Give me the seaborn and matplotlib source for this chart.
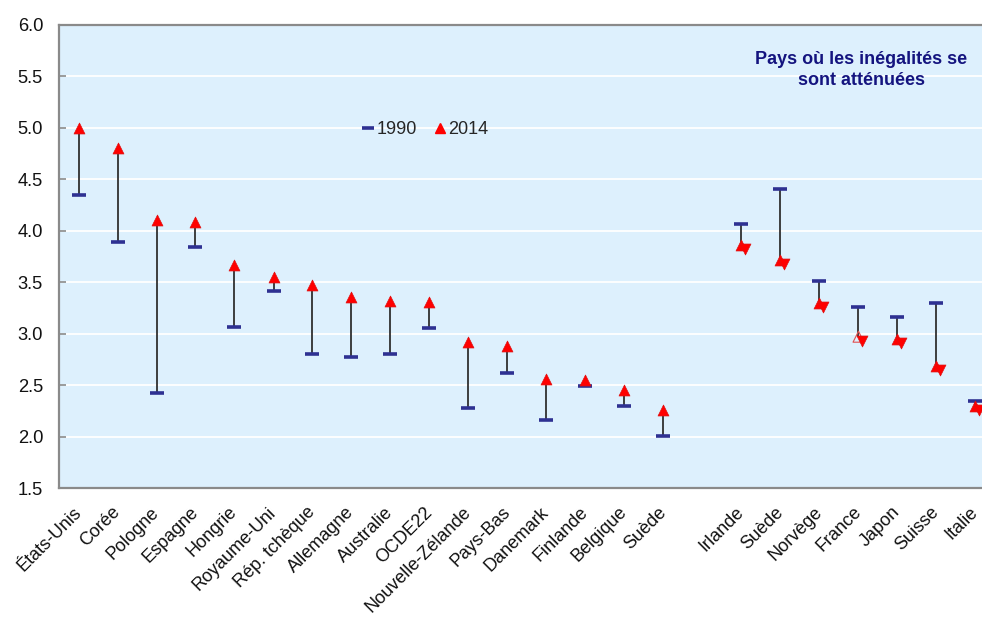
import matplotlib
matplotlib.use("Agg")
import matplotlib.pyplot as plt
import matplotlib.transforms as mtransforms
from matplotlib.lines import Line2D
import numpy as np
import pandas as pd
import seaborn as sns

# ---- data ----
left_countries = ["États-Unis", "Corée", "Pologne", "Espagne", "Hongrie", "Royaume-Uni",
                  "Rép. tchèque", "Allemagne", "Australie", "OCDE22", "Nouvelle-Zélande",
                  "Pays-Bas", "Danemark", "Finlande", "Belgique", "Suède"]
left_1990 = [4.35, 3.89, 2.42, 3.84, 3.06, 3.41, 2.80, 2.77, 2.80, 3.05, 2.28,
             2.62, 2.16, 2.49, 2.30, 2.01]
left_2014 = [5.00, 4.80, 4.10, 4.08, 3.67, 3.55, 3.47, 3.36, 3.32, 3.31, 2.92,
             2.88, 2.56, 2.55, 2.45, 2.26]

right_countries = ["Irlande", "Suède", "Norvège", "France", "Japon", "Suisse", "Italie"]
right_1990 = [4.06, 4.40, 3.51, 3.26, 3.16, 3.30, 2.35]
right_2014 = [3.86, 3.71, 3.30, 2.97, 2.95, 2.69, 2.30]
hollow_2014 = ["France"]

annotation = "Pays où les inégalités se\nsont atténuées"
series_labels = ["1990", "2014"]

# ---- tables ----
left = pd.DataFrame({"country": left_countries, "v1990": left_1990, "v2014": left_2014})
left["pos"] = np.arange(len(left))
right = pd.DataFrame({"country": right_countries, "v1990": right_1990, "v2014": right_2014})
right["pos"] = np.arange(len(right)) + len(left) + 1
df = pd.concat([left, right], ignore_index=True)

# ---- style ----
sns.set_style("white")
plt.rcParams["font.family"] = ["Liberation Sans", "DejaVu Sans"]

NAVY = "#2e3192"
RED = "#ff0000"
BG = "#ddf0fd"
SPINE = "#8a8a8a"

fig = plt.figure(figsize=(9.82, 6.17), dpi=100)
ax = fig.add_axes([59 / 982, 1 - 488.2 / 617, 936 / 982, 463.7 / 617])
ax.set_facecolor(BG)

# connectors
ax.vlines(df["pos"], df["v1990"], df["v2014"], color="#303030", lw=1.3, zorder=2)

# 1990 dashes
sns.scatterplot(data=df, x="pos", y="v1990", marker="_", s=90, linewidth=2.6,
                color=NAVY, ax=ax, zorder=3, legend=False)

# 2014 up triangles
is_right = df["pos"] > len(left)
solid = df[~(df["country"].isin(hollow_2014) & is_right)]
hol = df[df["country"].isin(hollow_2014) & is_right]
sns.scatterplot(data=solid, x="pos", y="v2014", marker="^", s=62, color=RED,
                edgecolor="#e01010", linewidth=0.5, ax=ax, zorder=4, legend=False)
sns.scatterplot(data=hol, x="pos", y="v2014", marker="^", s=62, facecolor="none",
                edgecolor="#e05050", linewidth=0.8, ax=ax, zorder=4, legend=False)

# 2014 down triangles for declining countries (slightly offset)
offset = mtransforms.ScaledTranslation(4 / 100, -4 / 100, fig.dpi_scale_trans)
rdf = df[is_right]
ax.scatter(rdf["pos"], rdf["v2014"], marker="v", s=62, color=RED,
           edgecolor="#e01010", linewidth=0.5, zorder=5, transform=ax.transData + offset)

# axes
ax.set_xlim(-0.5, len(df) + 0.5)
ax.set_ylim(1.5, 6.0)
yt = np.arange(1.5, 6.01, 0.5)
ax.set_yticks(yt)
ax.set_yticklabels([f"{v:.1f}" for v in yt])
ax.set_xticks(df["pos"])
ax.set_xticklabels(df["country"], rotation=45, ha="right", va="top",
                   rotation_mode="anchor")
ax.set_xlabel("")
ax.set_ylabel("")

ax.yaxis.grid(True, color="white", lw=1.3)
ax.xaxis.grid(False)
ax.set_axisbelow(True)

for side in ["top", "left", "bottom"]:
    ax.spines[side].set_visible(True)
    ax.spines[side].set_color(SPINE)
    ax.spines[side].set_linewidth(1.6)
ax.spines["right"].set_visible(False)

ax.tick_params(axis="y", direction="in", length=5, width=1.2, color=SPINE,
               labelsize=13.2, pad=11.5, labelcolor="#111111", left=True)
ax.tick_params(axis="x", length=0, labelsize=13, pad=9, labelcolor="#111111")

# shift the rotated category labels slightly left/down (after tick_params)
lab_shift = mtransforms.ScaledTranslation(-6 / 100, -3 / 100, fig.dpi_scale_trans)
for lab in ax.xaxis.get_majorticklabels():
    lab.set_transform(lab.get_transform() + lab_shift)

# legend
handles = [
    Line2D([], [], marker="_", color=NAVY, ls="none", markersize=9, markeredgewidth=2.6),
    Line2D([], [], marker="^", color=RED, ls="none", markersize=7.5),
]
ax.legend(handles, series_labels, loc="center left", bbox_to_anchor=(0.3225, 0.7725),
          ncol=2, frameon=False, fontsize=13, handlelength=0.75, handletextpad=0.1,
          columnspacing=0.9, borderpad=0, borderaxespad=0)

ax.text(0.857, 0.902, annotation, transform=ax.transAxes, ha="center", va="center",
        fontsize=13, fontweight="bold", color="#14147f", linespacing=1.3)

fig.savefig("out.png", dpi=100)
